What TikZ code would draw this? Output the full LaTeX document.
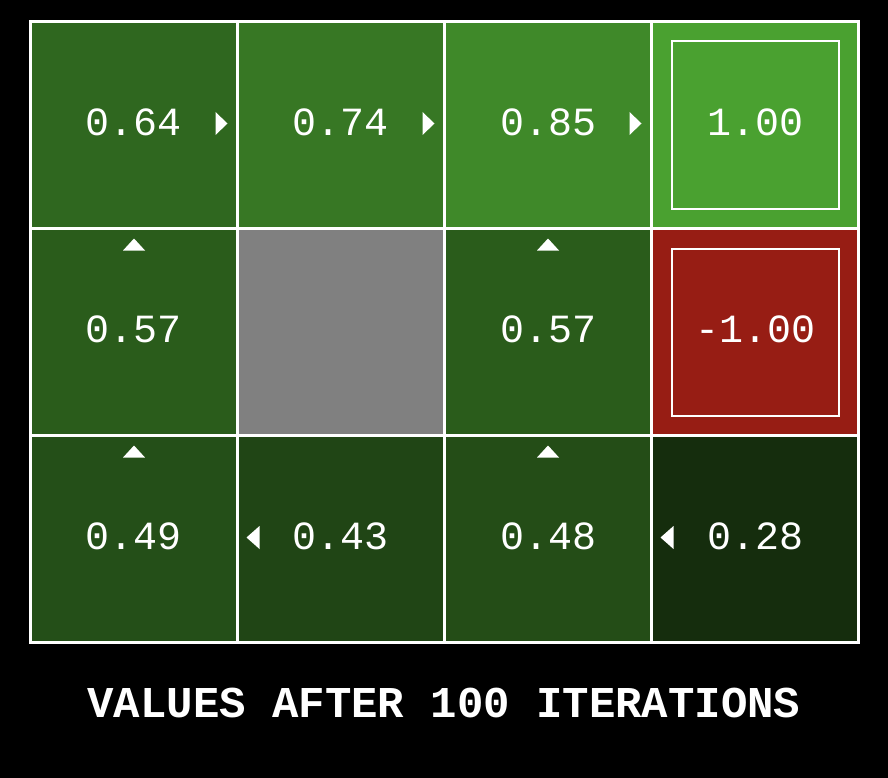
\documentclass[tikz,border=0pt]{standalone}
\usepackage{fontspec}
\usepackage{xcolor}
\usepackage{tikz}
\usetikzlibrary{positioning}

\newfontfamily\gridfont{Liberation Mono}
\definecolor{win}{RGB}{74,161,48}
\definecolor{lose}{RGB}{151,29,20}
\definecolor{wall}{RGB}{128,128,128}

\begin{document}
\begin{tikzpicture}[
  x=1pt, y=-1pt,
  cell/.style={draw=white, line width=3pt, outer sep=0pt, inner sep=0pt,
    minimum width=207pt, minimum height=207pt, text=white, text depth=6pt,
    font=\gridfont\fontsize{40}{40}\selectfont},
  frame/.style={draw=white, line width=2pt, outer sep=0pt, inner sep=0pt, minimum size=167pt},
  tip/.style={fill=white},
  caption/.style={text=white, font=\gridfont\bfseries\fontsize{44}{44}\selectfont}]

\fill[black] (0,0) rectangle (888,778);

% top row
\node[cell, fill=win!64!black] (v00) at (134,125) {0.64};
\node[cell, fill=win!74!black, right=0pt of v00] (v01) {0.74};
\node[cell, fill=win!85!black, right=0pt of v01] (v02) {0.85};
\node[cell, fill=win, right=0pt of v02] (v03) {1.00};

% middle row
\node[cell, fill=win!57!black, below=0pt of v00] (v10) {0.57};
\node[cell, fill=wall, right=0pt of v10] (v11) {};
\node[cell, fill=win!57!black, right=0pt of v11] (v12) {0.57};
\node[cell, fill=lose, right=0pt of v12] (v13) {-1.00};

% bottom row
\node[cell, fill=win!49!black, below=0pt of v10] (v20) {0.49};
\node[cell, fill=win!43!black, right=0pt of v20] (v21) {0.43};
\node[cell, fill=win!48!black, right=0pt of v21] (v22) {0.48};
\node[cell, fill=win!28!black, right=0pt of v22] (v23) {0.28};

% exit squares
\node[frame] (f03) at (v03) {};
\node[frame] (f13) at (v13) {};

% policy arrows
\fill[tip] ([xshift=-22pt,yshift=13pt]v00.east) -- ++(12pt,-11.5pt) -- ++(-12pt,-11.5pt) -- cycle;
\fill[tip] ([xshift=-22pt,yshift=13pt]v01.east) -- ++(12pt,-11.5pt) -- ++(-12pt,-11.5pt) -- cycle;
\fill[tip] ([xshift=-22pt,yshift=13pt]v02.east) -- ++(12pt,-11.5pt) -- ++(-12pt,-11.5pt) -- cycle;
\fill[tip] ([yshift=-10pt]v10.north) -- ++(11pt,-12pt) -- ++(-22pt,0pt) -- cycle;
\fill[tip] ([yshift=-10pt]v12.north) -- ++(11pt,-12pt) -- ++(-22pt,0pt) -- cycle;
\fill[tip] ([yshift=-10pt]v20.north) -- ++(11pt,-12pt) -- ++(-22pt,0pt) -- cycle;
\fill[tip] ([yshift=-10pt]v22.north) -- ++(11pt,-12pt) -- ++(-22pt,0pt) -- cycle;
\fill[tip] ([xshift=9pt,yshift=1.5pt]v21.west) -- ++(13pt,11.5pt) -- ++(0pt,-23pt) -- cycle;
\fill[tip] ([xshift=9pt,yshift=1.5pt]v23.west) -- ++(13pt,11.5pt) -- ++(0pt,-23pt) -- cycle;

\node[caption] (title) at (444,703) {VALUES AFTER 100 ITERATIONS};
\end{tikzpicture}
\end{document}
